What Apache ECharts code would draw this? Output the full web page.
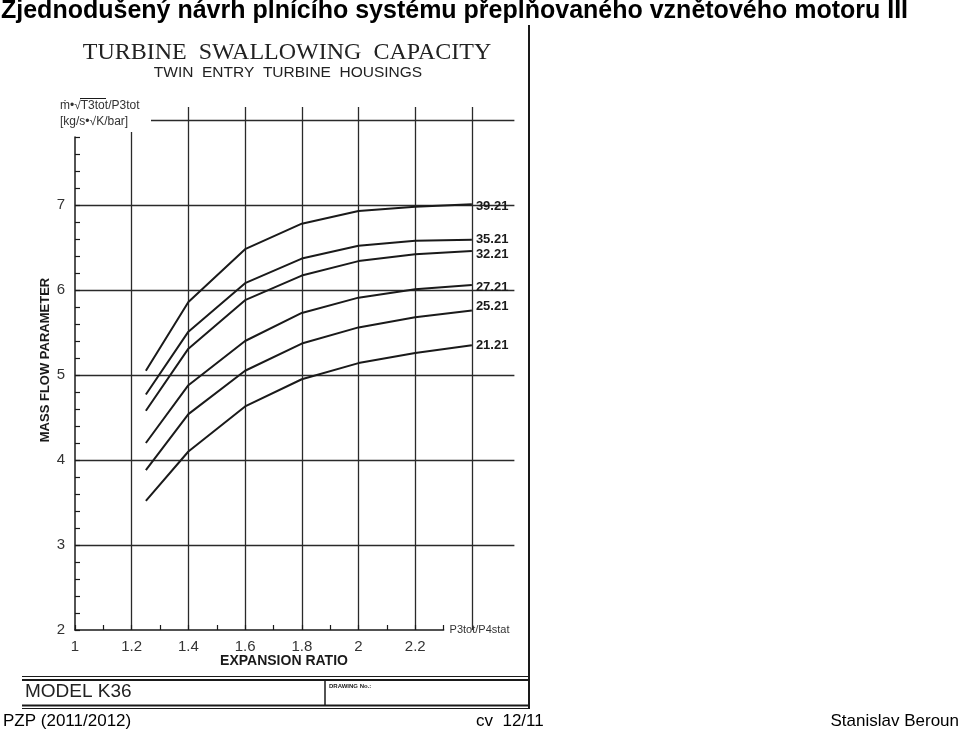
<!DOCTYPE html>
<html>
<head>
<meta charset="utf-8">
<script src="https://cdn.jsdelivr.net/npm/echarts@6/dist/echarts.min.js"></script>
<style>
html, body { margin: 0; padding: 0; background: #fff; }
#main { width: 960px; height: 732px; }
</style>
</head>
<body>
<div id="main"></div>
<script>
// expansion ratio P3tot/P4stat (x) and mass flow parameter (y), one curve per turbine size
var expansionRatio = [1.25, 1.4, 1.6, 1.8, 2.0, 2.2, 2.4];
var curveNames = ["39.21", "35.21", "32.21", "27.21", "25.21", "21.21"];
var flow3921 = [5.05, 5.86, 6.48, 6.78, 6.93, 6.98, 7.01];
var flow3521 = [4.77, 5.51, 6.08, 6.37, 6.52, 6.58, 6.59];
var flow3221 = [4.58, 5.31, 5.88, 6.17, 6.34, 6.42, 6.46];
var flow2721 = [4.20, 4.88, 5.40, 5.73, 5.91, 6.01, 6.06];
var flow2521 = [3.88, 4.54, 5.05, 5.37, 5.56, 5.68, 5.76];
var flow2121 = [3.52, 4.10, 4.63, 4.95, 5.14, 5.26, 5.35];
var curves = [flow3921, flow3521, flow3221, flow2721, flow2521, flow2121];

// small vertical nudges so the end labels sit like in the scan
var labelNudge = [2, 0, 4, 3, -4, 0];

var ink = "#1a1a1a";
var font = "Liberation Sans";

var myChart = echarts.init(document.getElementById("main"));

var series = curves.map(function (vals, i) {
  return {
    name: curveNames[i],
    type: "line",
    xAxisIndex: 0,
    yAxisIndex: 0,
    symbol: "none",
    smooth: false,
    data: expansionRatio.map(function (x, j) { return [x, vals[j]]; }),
    lineStyle: { color: ink, width: 2 },
    endLabel: {
      show: true,
      formatter: "{a}",
      distance: 4,
      offset: [0, labelNudge[i]],
      color: ink,
      fontFamily: font,
      fontSize: 13,
      fontWeight: "bold"
    },
    z: 5
  };
});

function gText(x, y, text, style, extra) {
  var el = {
    type: "text",
    x: x,
    y: y,
    z: 20,
    style: Object.assign({ text: text, fill: ink, fontFamily: font, verticalAlign: "middle" }, style)
  };
  return Object.assign(el, extra || {});
}
function gLine(x1, y1, x2, y2, w) {
  return { type: "line", z: 20, shape: { x1: x1, y1: y1, x2: x2, y2: y2 }, style: { stroke: ink, lineWidth: w } };
}

myChart.setOption({
  animation: false,
  backgroundColor: "#fff",
  textStyle: { fontFamily: font },
  grid: [
    // data + gridlines (vertical lines poke a little above the top line)
    { left: 75, top: 107, width: 439.4, height: 523, outerBoundsMode: "none" },
    // drawn axes (shorter than the gridlines, as in the scan)
    { left: 75, top: 137, width: 368.6, height: 493, outerBoundsMode: "none" }
  ],
  xAxis: [
    {
      type: "value", gridIndex: 0, min: 1, max: 2.55, interval: 0.2,
      axisLine: { show: false }, axisTick: { show: false }, axisLabel: { show: false },
      splitLine: { show: true, showMinLine: false, showMaxLine: false, lineStyle: { color: "#2a2a2a", width: 1.3 } }
    },
    {
      type: "value", gridIndex: 1, min: 1, max: 2.3, interval: 0.1,
      axisLine: { show: true, onZero: false, lineStyle: { color: ink, width: 1.5 } },
      axisTick: { show: true, inside: true, length: 5, lineStyle: { color: ink, width: 1.2 } },
      axisLabel: {
        margin: 9, color: "#333", fontSize: 15,
        formatter: function (v) {
          var k = Math.round(v * 10);
          return (k % 2 === 0 && k <= 22) ? String(k / 10) : "";
        }
      },
      splitLine: { show: false },
      name: "P3tot/P4stat", nameLocation: "end", nameGap: 6,
      nameTextStyle: { fontSize: 11, color: "#333", verticalAlign: "middle" }
    }
  ],
  yAxis: [
    {
      type: "value", gridIndex: 0, min: 2, max: 8.153, interval: 1,
      axisLine: { show: false }, axisTick: { show: false }, axisLabel: { show: false },
      splitLine: { show: true, showMinLine: false, showMaxLine: false, lineStyle: { color: "#2a2a2a", width: 1.3 } }
    },
    {
      type: "value", gridIndex: 1, min: 2, max: 7.8, interval: 0.2,
      axisLine: { show: true, onZero: false, lineStyle: { color: ink, width: 1.5 } },
      axisTick: { show: true, inside: true, length: 5, lineStyle: { color: ink, width: 1.2 } },
      axisLabel: {
        margin: 10, color: "#333", fontSize: 15,
        formatter: function (v) {
          var k = Math.round(v * 10);
          return (k % 10 === 0) ? String(k / 10) : "";
        }
      },
      splitLine: { show: false }
    }
  ],
  series: series,
  graphic: [
    // the scan leaves the corner by the unit label empty
    { type: "rect", z: 15, shape: { x: 58, y: 95, width: 93, height: 37 }, style: { fill: "#fff" } },
    gText(1, 11, "Zjednodušený návrh plnícího systému přeplňovaného vznětového motoru III",
      { fontSize: 25, fontWeight: "bold", fill: "#000" }),
    gText(287, 53, "TURBINE  SWALLOWING  CAPACITY",
      { fontSize: 24, fontFamily: "Liberation Serif", textAlign: "center", fill: "#222" }),
    gText(288, 73, "TWIN  ENTRY  TURBINE  HOUSINGS",
      { fontSize: 15.5, textAlign: "center", fill: "#222" }),
    gText(60, 106, "ṁ•√T3tot/P3tot", { fontSize: 12, fill: "#333" }),
    gLine(80, 98.5, 106, 98.5, 1),
    gText(60, 122, "[kg/s•√K/bar]", { fontSize: 12, fill: "#333" }),
    gText(45, 360, "MASS FLOW PARAMETER",
      { fontSize: 13, fontWeight: "bold", textAlign: "center" }, { rotation: Math.PI / 2 }),
    gText(284, 661, "EXPANSION RATIO", { fontSize: 14, fontWeight: "bold", textAlign: "center" }),
    // frame of the scanned sheet
    gLine(529, 25, 529, 708, 2),
    gLine(22, 676.5, 530, 676.5, 1.2),
    gLine(22, 680, 530, 680, 2),
    gLine(22, 705.5, 530, 705.5, 2),
    gLine(22, 708.5, 530, 708.5, 1),
    gLine(325, 680, 325, 705, 1.5),
    gText(25, 692, "MODEL K36", { fontSize: 19, fill: "#222" }),
    gText(329, 686, "DRAWING No.:", { fontSize: 6, fontWeight: "bold" }),
    // slide footer
    gText(3, 721, "PZP (2011/2012)", { fontSize: 17, fill: "#000" }),
    gText(476, 721, "cv  12/11", { fontSize: 17, fill: "#000" }),
    gText(959, 721, "Stanislav Beroun", { fontSize: 17, fill: "#000", textAlign: "right" })
  ]
});
</script>
</body>
</html>
